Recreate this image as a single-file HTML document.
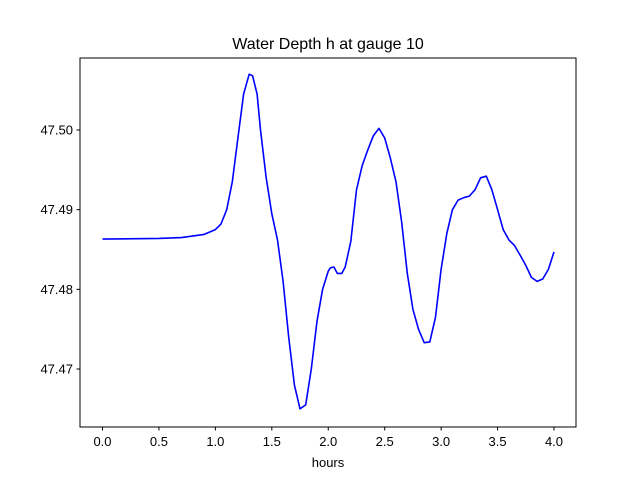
<!DOCTYPE html>
<html><head><meta charset="utf-8"><style>
body{margin:0;background:#fff;}
svg{display:block;font-family:"Liberation Sans","DejaVu Sans",sans-serif;}
</style></head><body>
<svg id="chart" width="640" height="480">
<rect width="640" height="480" fill="#fff"/>
<text x="328" y="49" text-anchor="middle" font-size="16">Water Depth h at gauge 10</text>
<text x="328" y="467" text-anchor="middle" font-size="13">hours</text>
<g id="axes"></g>
<rect x="80" y="58" width="496" height="369" fill="none" stroke="#000" stroke-width="1"/>
</svg>
<script>
const hours=[0,0.5,0.7,0.9,1.0,1.05,1.1,1.15,1.2,1.25,1.3,1.33,1.37,1.4,1.45,1.5,1.55,1.6,1.65,1.7,1.75,1.8,1.85,1.9,1.95,2.0,2.02,2.05,2.08,2.12,2.15,2.2,2.25,2.3,2.35,2.4,2.45,2.5,2.55,2.6,2.65,2.7,2.75,2.8,2.85,2.9,2.95,3.0,3.05,3.1,3.15,3.2,3.25,3.3,3.35,3.4,3.45,3.5,3.55,3.6,3.65,3.7,3.75,3.8,3.85,3.9,3.95,4.0];
const depth=[47.4863,47.4864,47.4865,47.4869,47.4875,47.4882,47.4900,47.4935,47.499,47.5045,47.5070,47.5068,47.5045,47.500,47.494,47.4895,47.4862,47.481,47.474,47.468,47.4650,47.4655,47.470,47.476,47.480,47.4823,47.4827,47.4828,47.4820,47.4820,47.4828,47.486,47.4925,47.4955,47.4975,47.4993,47.5002,47.499,47.4965,47.4935,47.4885,47.482,47.4775,47.475,47.4733,47.4734,47.4765,47.4825,47.487,47.490,47.4912,47.4915,47.4917,47.4925,47.4940,47.4942,47.4925,47.490,47.4875,47.4862,47.4855,47.4843,47.4830,47.4815,47.4810,47.4813,47.4825,47.4847];
const xTicks=[0,0.5,1,1.5,2,2.5,3,3.5,4];
const xLabels=["0.0","0.5","1.0","1.5","2.0","2.5","3.0","3.5","4.0"];
const yTicks=[47.47,47.48,47.49,47.50];
const yLabels=["47.47","47.48","47.49","47.50"];
const X=v=>102.5+v*112.875;
const Y=v=>130+(47.50-v)*7967;
const ns="http://www.w3.org/2000/svg";
const g=document.getElementById('axes');
function mk(t,a){const e=document.createElementNS(ns,t);for(const k in a)e.setAttribute(k,a[k]);g.appendChild(e);return e;}
xTicks.forEach((t,i)=>{
 const l=mk('line',{x1:X(t),x2:X(t),y1:427,y2:430.5,stroke:'#000'});
 
 
 const s=mk('text',{x:X(t),y:446,'text-anchor':'middle','font-size':13});
 s.textContent=xLabels[i];
 
 
});
yTicks.forEach((t,i)=>{
 const l=mk('line',{x1:76.5,x2:80,y1:Y(t),y2:Y(t),stroke:'#000'});
 
 
 const s=mk('text',{x:73,y:Y(t)+4.5,'text-anchor':'end','font-size':13});
 s.textContent=yLabels[i];
 
 
});
const d=hours.map((h,i)=>(i?'L':'M')+X(h).toFixed(1)+','+Y(depth[i]).toFixed(1)).join(' ');
const p=mk('path',{d:d,fill:'none',stroke:'#0000ff','stroke-width':1.6,'stroke-linejoin':'round'});


</script>
</body></html>
